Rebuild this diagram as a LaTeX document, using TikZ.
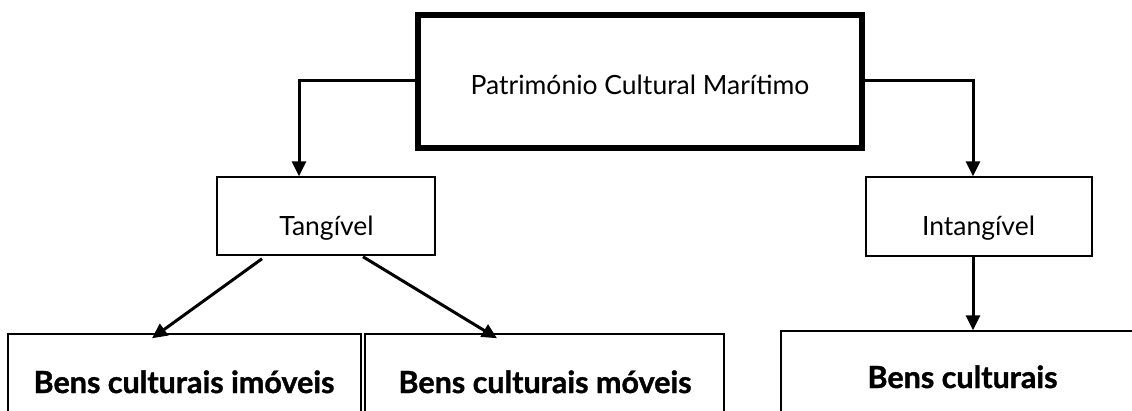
\documentclass[tikz,border=0pt]{standalone}
\usepackage{fontspec}
\setmainfont{Lato}
\newfontfamily\heavyfont{Lato}[BoldFeatures={FakeBold=1.2}]
\usetikzlibrary{arrows.meta}
\tikzset{
  box/.style={draw, line width=1.5pt, inner sep=0pt},
  mainbox/.style={draw, line width=6pt, inner sep=0pt},
  lbl/.style={inner sep=0pt, anchor=base, font=\fontsize{26.5}{32}\selectfont},
  blbl/.style={inner sep=0pt, anchor=base, font=\fontsize{30.5}{36}\heavyfont\bfseries},
  arr/.style={line width=3pt, -{Triangle[length=15pt,width=14pt]}},
}
\begin{document}
\begin{tikzpicture}[x=1pt,y=-1pt]
\useasboundingbox (0,0) rectangle (1132,410);
\clip (0,0) rectangle (1132,410);
% boxes
\node[mainbox, minimum width=444pt, minimum height=133pt] (top) at (640,81.5) {};
\node[box, minimum width=218pt, minimum height=78pt] (tang) at (326,216) {};
\node[box, minimum width=226pt, minimum height=79pt] (intang) at (979,216.5) {};
\node[box, minimum width=353pt, minimum height=120pt] (bci) at (184.5,394) {};
\node[box, minimum width=359pt, minimum height=120pt] (bcm) at (544.5,394) {};
\node[box, minimum width=380pt, minimum height=120pt] (bc) at (971,391) {};
% labels
\node[lbl] (ttop) at (640,94) {Património Cultural Marítimo};
\node[lbl] (ttang) at (326.5,235) {Tangível};
\node[lbl] (tintang) at (978.5,235) {Intangível};
\node[blbl] (tbci) at (184,393) {Bens culturais imóveis};
\node[blbl] (tbcm) at (545,393) {Bens culturais móveis};
\node[blbl] (tbc) at (962.5,388) {Bens culturais};
% connectors
\coordinate (a1) at (299,80);
\coordinate (a2) at (973,80);
\draw[arr] (top.west |- a1) -| (tang.north -| a1);
\draw[arr] (top.east |- a2) -| (intang.north -| a2);
\draw[arr] (intang.south -| a2) -- (bc.north -| a2);
\coordinate (s1) at (262,0);
\coordinate (e1) at (152,0);
\coordinate (s2) at (363,0);
\coordinate (e2) at (497,0);
\draw[arr] ([yshift=-3pt]tang.south -| s1) -- ([yshift=-5pt]bci.north -| e1);
\draw[arr] ([yshift=-1pt]tang.south -| s2) -- ([yshift=-5pt]bcm.north -| e2);
\end{tikzpicture}
\end{document}
